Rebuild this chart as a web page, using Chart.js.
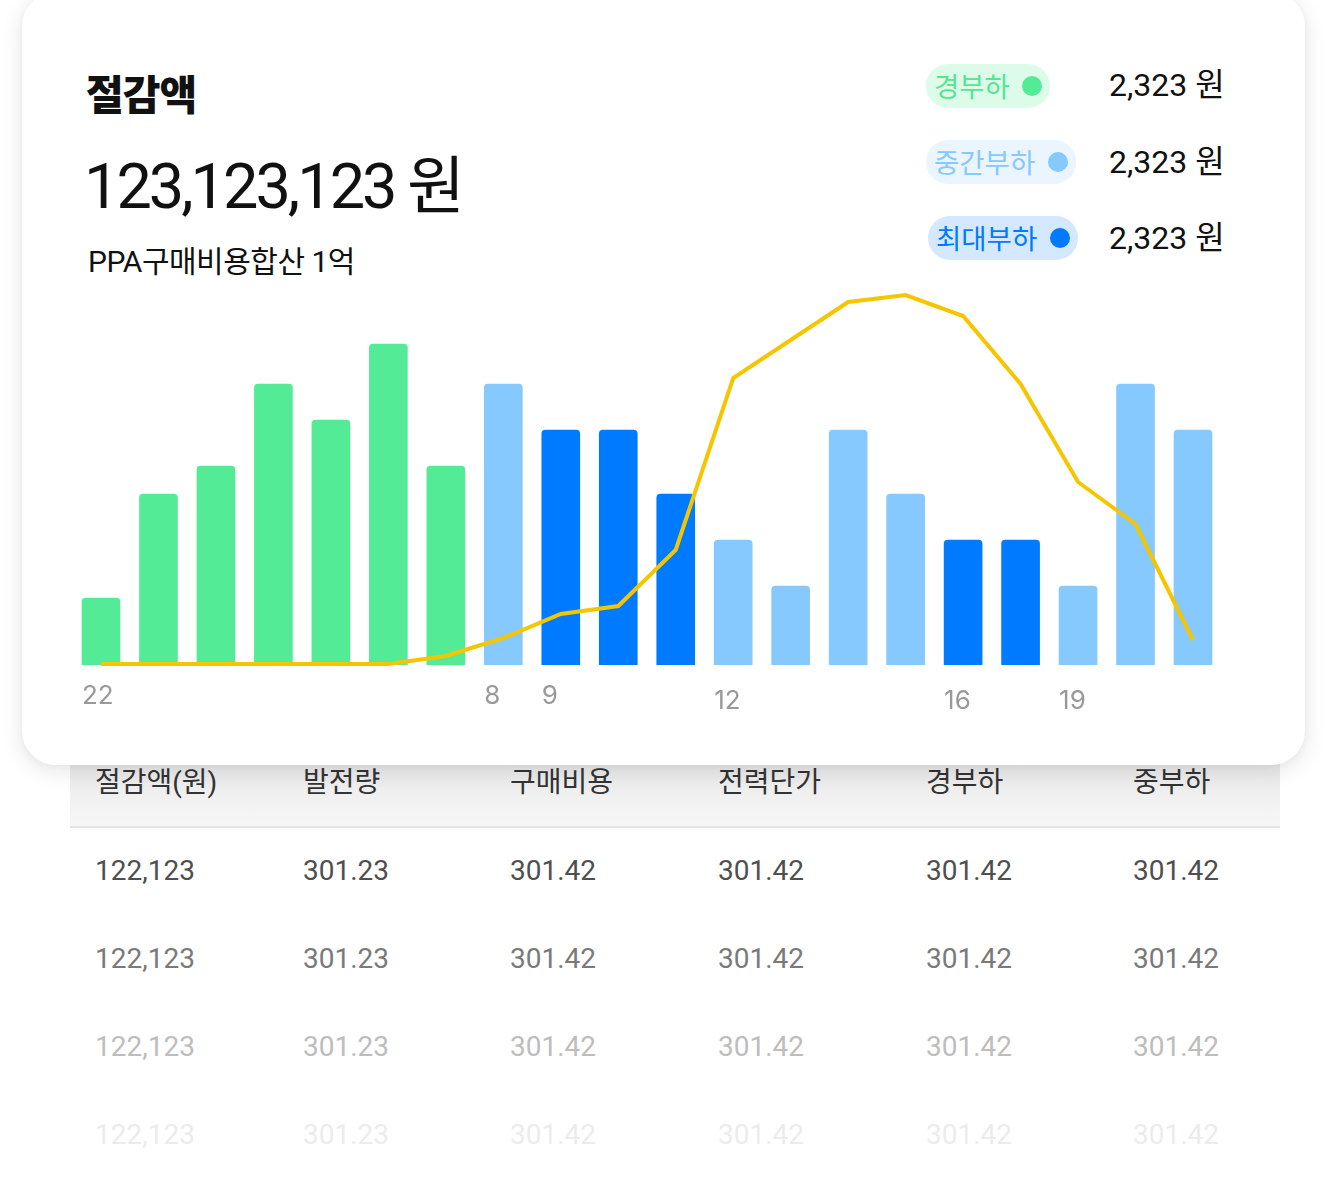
<!DOCTYPE html>
<html lang="ko">
<head>
<meta charset="utf-8">
<script src="https://cdn.jsdelivr.net/npm/chart.js@4/dist/chart.umd.min.js"></script>
<style>
  html, body { margin: 0; padding: 0; background: #fff; }
  body { width: 1328px; height: 1178px; position: relative; overflow: hidden;
         font-family: Inter, "Noto Sans CJK KR", sans-serif; }
  .abs { position: absolute; white-space: nowrap; }
  #card { position: absolute; left: 22px; top: -8px; width: 1283px; height: 773px;
          background: #fff; border-radius: 34px;
          box-shadow: 0 6px 22px rgba(0,0,0,0.10), 0 0 8px rgba(0,0,0,0.04); z-index: 2; }
  #thead { position: absolute; left: 70px; top: 740px; width: 1210px; height: 86px;
           background: linear-gradient(#e3e3e5, #f7f7f7); border-bottom: 2px solid #e3e3e3; z-index: 1; }
  .th, .td { position: absolute; font-family: Roboto, "Noto Sans CJK KR", sans-serif; font-size: 28px;
             line-height: 40px; white-space: nowrap; z-index: 1; }
  .th { color: #333; }
  .pill { position: absolute; height: 44px; border-radius: 22px; z-index: 3;
          font-family: "Noto Sans CJK KR", sans-serif; font-size: 27.5px; line-height: 44px; }
  .pill .dot { position: absolute; width: 20px; height: 20px; border-radius: 10px; top: 12px; }
  .pill span { position: absolute; left: 8px; top: -1px; }
  .val { position: absolute; z-index: 3; font-family: Roboto, "Noto Sans CJK KR", sans-serif; font-size: 32px;
         color: #111; line-height: 40px; }
  #chart { position: absolute; left: 0; top: 255px; z-index: 3; }
</style>
</head>
<body>
<div id="card"></div>

<div class="abs" style="left:86px;top:66px;z-index:3;font-family:'Noto Sans CJK KR',sans-serif;font-weight:900;font-size:41px;line-height:52px;color:#111;letter-spacing:-1px;">절감액</div>
<div class="abs" style="left:84px;top:147px;z-index:3;font-family:Roboto,'Noto Sans CJK KR',sans-serif;font-size:63px;line-height:80px;color:#111;letter-spacing:-3px;">123,123,123 원</div>
<div class="abs" style="left:88px;top:242px;z-index:3;font-family:Roboto,'Noto Sans CJK KR',sans-serif;font-size:30px;line-height:40px;color:#111;letter-spacing:-0.5px;">PPA구매비용합산 1억</div>

<div id="legend"></div>
<canvas id="chart" width="1328" height="470"></canvas>

<div id="thead"></div>
<div id="table"></div>

<script>
// ---- data ----
const hours = ['22','','','','','','','8','9','','','12','','','','16','','19','',''];
const loadLevel = ['light','light','light','light','light','light','light','mid','peak','peak','peak','mid','mid','mid','mid','peak','peak','mid','mid','mid'];
const barValues = [67,171,199,281,245,321,199,281,235,235,171,125,79,235,171,125,125,79,281,235];
const lineValues = [1,1,1,1,1,1,9,27,51,59,115,287,325,363,370,349,281,183,141,25];
const lowerTicks = ['12','16','19'];

const legendNames = ['경부하','중간부하','최대부하'];
const legendValues = ['2,323 원','2,323 원','2,323 원'];

const tableHeaders = ['절감액(원)','발전량','구매비용','전력단가','경부하','중부하'];
const tableRows = [
  ['122,123','301.23','301.42','301.42','301.42','301.42'],
  ['122,123','301.23','301.42','301.42','301.42','301.42'],
  ['122,123','301.23','301.42','301.42','301.42','301.42'],
  ['122,123','301.23','301.42','301.42','301.42','301.42']
];

// ---- styles ----
const levelColor = { light: '#53EB96', mid: '#86C9FF', peak: '#007AFF' };
const pillStyles = [
  { bg: '#DCFBE9', fg: '#53E695', dot: '#53EB96', left: 926, top: 64, width: 124, dotLeft: 96 },
  { bg: '#EAF5FF', fg: '#86C9FF', dot: '#86C9FF', left: 926, top: 140, width: 150, dotLeft: 122 },
  { bg: '#D4E8FF', fg: '#007AFF', dot: '#007AFF', left: 928, top: 216, width: 150, dotLeft: 122 }
];
const valTops = [65, 142, 218];
const colX = [95, 303, 510, 718, 926, 1133];
const rowTops = [851, 939, 1027, 1115];
const rowColors = ['#4f4f4f', '#7a7a7a', '#bdbdbd', '#ececec'];

// legend
const legend = document.getElementById('legend');
legendNames.forEach((name, i) => {
  const s = pillStyles[i];
  const p = document.createElement('div');
  p.className = 'pill';
  p.style.cssText = `left:${s.left}px;top:${s.top}px;width:${s.width}px;background:${s.bg};color:${s.fg};`;
  p.innerHTML = `<span>${name}</span><div class="dot" style="left:${s.dotLeft}px;background:${s.dot}"></div>`;
  legend.appendChild(p);
  const v = document.createElement('div');
  v.className = 'val';
  v.style.cssText = `left:1109px;top:${valTops[i]}px;`;
  v.textContent = legendValues[i];
  legend.appendChild(v);
});

// table
const table = document.getElementById('table');
tableHeaders.forEach((h, c) => {
  const d = document.createElement('div');
  d.className = 'th';
  d.style.cssText = `left:${colX[c]}px;top:763px;`;
  d.textContent = h;
  table.appendChild(d);
});
tableRows.forEach((row, r) => {
  row.forEach((cell, c) => {
    const d = document.createElement('div');
    d.className = 'td';
    d.style.cssText = `left:${colX[c]}px;top:${rowTops[r]}px;color:${rowColors[r]};`;
    d.textContent = cell;
    table.appendChild(d);
  });
});

// chart
new Chart(document.getElementById('chart'), {
  data: {
    labels: hours,
    datasets: [
      {
        type: 'line',
        data: lineValues,
        borderColor: '#F5C600',
        borderWidth: 4,
        pointRadius: 0,
        tension: 0,
        fill: false,
        order: 0,
        clip: false
      },
      {
        type: 'bar',
        data: barValues,
        backgroundColor: loadLevel.map(l => levelColor[l]),
        barThickness: 38,
        borderRadius: { topLeft: 4, topRight: 4, bottomLeft: 0, bottomRight: 0 },
        borderSkipped: 'bottom',
        order: 1
      }
    ]
  },
  options: {
    responsive: false,
    animation: false,
    devicePixelRatio: 1,
    layout: { padding: { left: 72.26, right: 106.26, top: 10, bottom: 0 } },
    plugins: { legend: { display: false }, tooltip: { enabled: false } },
    scales: {
      y: { display: false, min: 0, max: 400 },
      x: {
        grid: { display: false },
        border: { display: false },
        afterFit: s => { s.height = 60; },
        ticks: {
          autoSkip: false,
          maxRotation: 0,
          minRotation: 0,
          align: 'start',
          labelOffset: -19,
          padding: 7,
          color: '#999999',
          font: ctx => {
            const lbl = hours[ctx.index];
            return { family: 'Inter, Roboto, sans-serif', size: 26,
                     lineHeight: lowerTicks.includes(lbl) ? '43px' : '32px' };
          }
        }
      }
    }
  }
});
</script>
</body>
</html>
